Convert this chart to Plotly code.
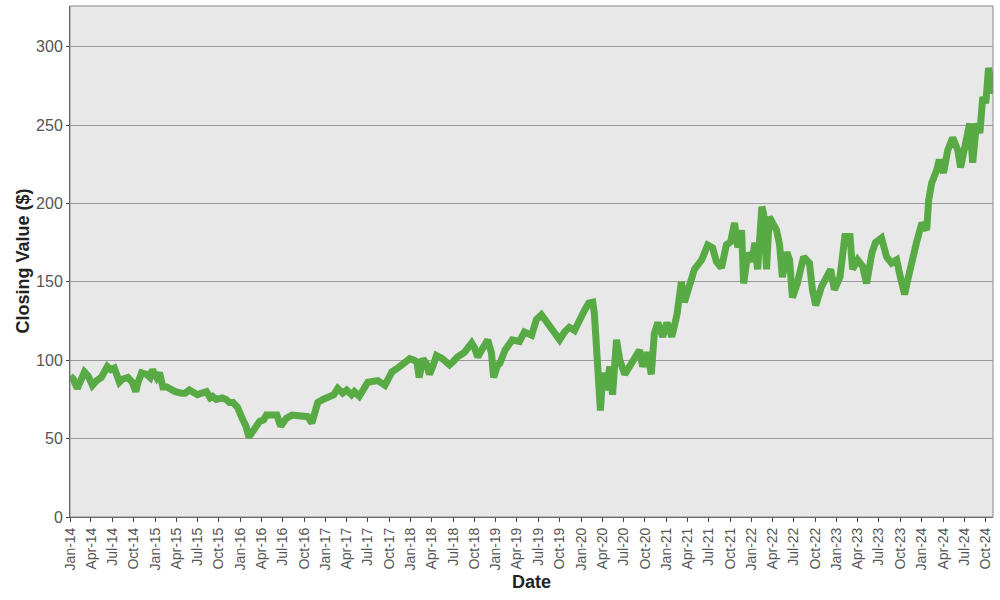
import plotly.graph_objects as go

dates = [
    "2014-01-02", "2014-01-15", "2014-02-01", "2014-02-15", "2014-03-04", "2014-03-20",
    "2014-04-07", "2014-04-25", "2014-05-15", "2014-06-10", "2014-06-25", "2014-07-10",
    "2014-08-01", "2014-08-15", "2014-09-06", "2014-09-25", "2014-10-10", "2014-10-20",
    "2014-11-04", "2014-11-25", "2014-12-10", "2014-12-20",
    "2015-01-08", "2015-01-20", "2015-02-03", "2015-02-20", "2015-03-12", "2015-03-28",
    "2015-04-24", "2015-05-10", "2015-05-28", "2015-06-15", "2015-07-01", "2015-07-20",
    "2015-08-09", "2015-08-25", "2015-09-04", "2015-09-20", "2015-10-16", "2015-11-01",
    "2015-11-16", "2015-12-01", "2015-12-20",
    "2016-01-12", "2016-01-25", "2016-02-07", "2016-02-20", "2016-03-03", "2016-03-24",
    "2016-04-10", "2016-04-22", "2016-05-15", "2016-06-06", "2016-06-22", "2016-07-05",
    "2016-07-17", "2016-08-10", "2016-09-03", "2016-09-25", "2016-10-16", "2016-11-03",
    "2016-11-15", "2016-11-28", "2016-12-20",
    "2017-01-19", "2017-02-05", "2017-02-22", "2017-03-15", "2017-04-01", "2017-04-22",
    "2017-05-04", "2017-05-25", "2017-07-01", "2017-07-20", "2017-08-12", "2017-09-12",
    "2017-09-25", "2017-10-12", "2017-11-15", "2017-12-05", "2017-12-27",
    "2018-01-15", "2018-01-27", "2018-02-06", "2018-02-22", "2018-03-08", "2018-03-22",
    "2018-04-05", "2018-04-21", "2018-05-16", "2018-06-16", "2018-07-01", "2018-07-19",
    "2018-08-19", "2018-09-19", "2018-10-01", "2018-10-15", "2018-11-01", "2018-11-27",
    "2018-12-13", "2018-12-22",
    "2019-01-09", "2019-01-18", "2019-02-09", "2019-02-16", "2019-03-12", "2019-04-12",
    "2019-05-03", "2019-06-03", "2019-06-24", "2019-07-15", "2019-08-06", "2019-09-01",
    "2019-10-01", "2019-10-22", "2019-11-12", "2019-12-04", "2019-12-25",
    "2020-01-16", "2020-02-03", "2020-02-20", "2020-02-27", "2020-03-06", "2020-03-12",
    "2020-03-24", "2020-04-03", "2020-04-19", "2020-05-03", "2020-05-15", "2020-06-01",
    "2020-06-15", "2020-07-06", "2020-07-27", "2020-08-18", "2020-09-08", "2020-09-21",
    "2020-10-12", "2020-10-28", "2020-11-03", "2020-11-10", "2020-11-25", "2020-12-16",
    "2021-01-03", "2021-01-24", "2021-02-15", "2021-03-06", "2021-03-19", "2021-04-09",
    "2021-05-01", "2021-06-01", "2021-06-27", "2021-07-18", "2021-08-03", "2021-08-25",
    "2021-09-15", "2021-10-03", "2021-10-20", "2021-11-03", "2021-11-19", "2021-11-28",
    "2021-12-16",
    "2022-01-03", "2022-01-15", "2022-01-27", "2022-02-14", "2022-02-22", "2022-03-06",
    "2022-03-18", "2022-04-01", "2022-04-18", "2022-05-01", "2022-05-13", "2022-06-01",
    "2022-06-13", "2022-06-25", "2022-07-16", "2022-08-12", "2022-09-06", "2022-09-19",
    "2022-10-03", "2022-10-28", "2022-11-19", "2022-12-06", "2022-12-22",
    "2023-01-15", "2023-02-05", "2023-02-27", "2023-03-10", "2023-04-01", "2023-04-22",
    "2023-05-09", "2023-06-01", "2023-06-16", "2023-07-12", "2023-08-03", "2023-08-24",
    "2023-09-15", "2023-10-01", "2023-10-19", "2023-11-01", "2023-11-18", "2023-12-09",
    "2024-01-01", "2024-01-22", "2024-01-30", "2024-02-12", "2024-03-04", "2024-03-16",
    "2024-04-03", "2024-04-21", "2024-05-12", "2024-06-03", "2024-06-15", "2024-07-03",
    "2024-07-24", "2024-08-06", "2024-08-22", "2024-09-06", "2024-09-18", "2024-10-01",
    "2024-10-13", "2024-10-31",
]

closing = [
    90, 88, 82, 87, 92.5, 90,
    84, 87, 89, 96, 94, 95,
    86, 88, 89, 86, 80, 86,
    92, 91, 89, 94,
    89, 92, 83, 83, 81, 80,
    79, 79, 81, 79, 78, 79,
    80, 76, 77, 75, 76, 75,
    73, 73, 70,
    62, 58, 51, 54, 57, 61,
    62, 65, 65, 65, 58, 61,
    63, 65, 65, 64, 64, 60,
    67, 73, 75,
    77, 78, 82, 79, 81, 78,
    80, 77, 86, 86, 87, 84,
    88, 92.5, 96, 98, 101,
    100, 99, 89, 101, 98, 91,
    96, 103, 101, 97, 99, 102,
    105, 111, 108, 102, 106.5, 113,
    104.6, 89,
    97, 98, 106.5, 108, 113, 112,
    118, 116, 126, 129, 124, 118,
    113, 118, 121, 119, 126,
    132, 136.5, 137, 130, 108.5, 85.5,
    68, 92, 81, 96, 78, 113,
    100, 91, 96, 102, 106.5, 96,
    105, 91, 102, 117, 124, 115,
    124, 115, 129, 150, 137, 147,
    158, 164, 173.5, 171.7, 163, 159,
    173.6, 175.5, 187.6, 172, 183, 149,
    168.5,
    163, 175, 158, 198, 193, 158,
    191.5, 188, 183, 173.6, 153, 169,
    164, 140, 149, 166, 162, 145,
    135, 147, 153, 158, 145,
    153, 179, 179, 158, 164, 160,
    149, 168.5, 175, 178, 166, 162,
    164, 153, 142, 151, 164, 175,
    187.6, 183, 202, 213, 221, 228,
    219.5, 234, 242, 234, 223, 236,
    251, 226, 251, 245, 268, 264,
    286.5, 270,
]

y_ticks = [0, 50, 100, 150, 200, 250, 300]

fig = go.Figure()
fig.add_trace(go.Scatter(
    x=dates, y=closing, mode="lines",
    line=dict(color="#58aa45", width=7),
    showlegend=False,
))

font_fam = "Liberation Sans, Arial, sans-serif"

fig.update_layout(
    width=1000, height=600,
    margin=dict(l=70, r=7, t=6, b=83),
    paper_bgcolor="white",
    plot_bgcolor="#e8e8e8",
    font=dict(family=font_fam, size=16, color="#555555"),
    xaxis=dict(
        type="date",
        range=["2014-01-01", "2024-11-01"],
        tick0="2014-01-01", dtick="M3", tickformat="%b-%y",
        tickangle=-90,
        ticks="outside", ticklen=4, tickcolor="#444444",
        showgrid=False, zeroline=False,
        showline=True, linecolor="#444444", linewidth=1,
        tickfont=dict(size=14, color="#555555"),
        automargin=False,
    ),
    yaxis=dict(
        range=[0, 326],
        tickvals=y_ticks,
        ticks="outside", ticklen=3, tickcolor="#444444",
        showgrid=True, gridcolor="#999999", gridwidth=1,
        zeroline=False,
        showline=True, linecolor="#444444", linewidth=1,
        tickfont=dict(size=16, color="#555555"),
        automargin=False,
    ),
    shapes=[dict(type="rect", xref="paper", yref="paper", x0=0, x1=1, y0=0, y1=1,
                 line=dict(color="#888888", width=1), fillcolor="rgba(0,0,0,0)", layer="above")],
    annotations=[
        dict(text="<b>Date</b>", xref="paper", yref="paper", x=0.5, y=-0.127,
             xanchor="center", yanchor="middle", showarrow=False,
             font=dict(size=18, color="#222222", family=font_fam)),
        dict(text="<b>Closing Value ($)</b>", xref="paper", yref="paper", x=-0.052, y=0.5,
             xanchor="center", yanchor="middle", showarrow=False, textangle=-90,
             font=dict(size=18, color="#222222", family=font_fam)),
    ],
)

fig.write_html("out.html", config={"displayModeBar": False},
               post_script="document.body.style.margin='0';document.body.style.overflow='hidden';")
